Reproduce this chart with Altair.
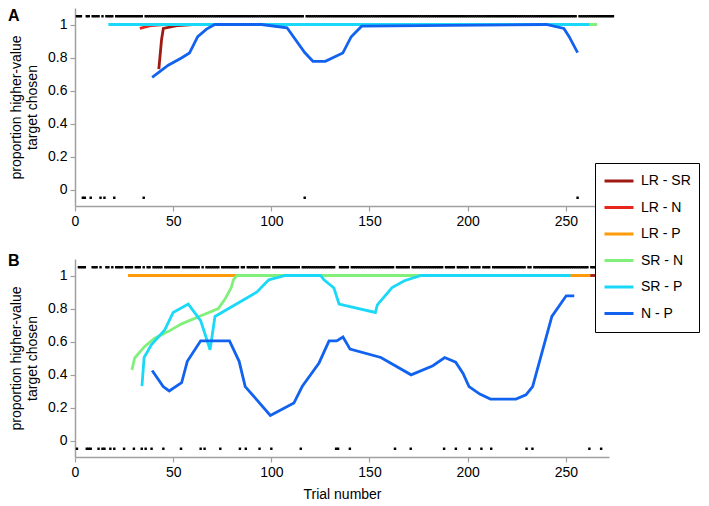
import altair as alt
import pandas as pd

FONT = "Liberation Sans, Arial, sans-serif"

SERIES = ["LR - SR", "LR - N", "LR - P", "SR - N", "SR - P", "N - P"]
COLORS = ["#a01a14", "#e8261e", "#ff9a0a", "#80f07a", "#1ad8f8", "#1262f0"]

# ---------------- Panel A ----------------
A_LRSR_x = [42.7, 44.1, 45.0, 52.6, 60.0]
A_LRSR_y = [0.73, 0.91, 0.976, 0.994, 1.0]
A_LRN_x = [33.0, 39.0, 45.0]
A_LRN_y = [0.977, 0.994, 1.0]
A_LRP_x = []
A_LRP_y = []
A_SRN_x = [60.0, 266.0]
A_SRN_y = [1.0, 1.0]
A_SRP_x = [17.0, 262.0]
A_SRP_y = [1.0, 1.0]
A_NP_x = [39.3, 47.5, 54.2, 58.3, 62.5, 67.0, 71.2, 95.0, 108.0, 117.0, 121.2,
          127.5, 136.4, 140.7, 146.0, 240.0, 249.0, 251.7, 256.0]
A_NP_y = [0.679, 0.753, 0.797, 0.827, 0.926, 0.972, 1.0, 1.0, 0.98, 0.83, 0.777,
          0.777, 0.827, 0.926, 0.99, 1.0, 0.976, 0.926, 0.83]
A_N_TRIALS = 274
A_ERRORS = [4, 5, 8, 13, 15, 20, 35, 117, 256]

# ---------------- Panel B ----------------
B_LRSR_x = [250.0, 265.0]
B_LRSR_y = [1.0, 1.0]
B_LRN_x = []
B_LRN_y = []
B_LRP_x = [27.0, 262.5]
B_LRP_y = [1.0, 1.0]
B_SRN_x = [29.0, 30.4, 35.5, 40.6, 47.4, 54.3, 64.5, 73.0, 76.4, 79.5, 80.7, 82.4, 250.0]
B_SRN_y = [0.428, 0.5, 0.57, 0.62, 0.66, 0.707, 0.758, 0.80, 0.857, 0.924, 0.974, 1.0, 1.0]
B_SRP_x = [34.1, 35.2, 38.9, 45.7, 50.0, 57.7, 64.0, 68.8, 71.3, 92.7, 98.7, 107.2,
           125.1, 126.8, 131.9, 134.5, 153.0, 154.0, 161.5, 167.8, 176.3, 252.4]
B_SRP_y = [0.33, 0.503, 0.58, 0.67, 0.776, 0.827, 0.727, 0.55, 0.752, 0.90, 0.974, 1.0,
           1.0, 0.974, 0.924, 0.827, 0.776, 0.822, 0.927, 0.968, 1.0, 1.0]
B_NP_x = [39.3, 44.9, 48.0, 54.3, 57.2, 64.0, 78.7, 83.6, 86.7, 99.5, 111.5, 115.7,
          124.3, 129.4, 133.3, 136.5, 140.1, 155.8, 171.2, 182.3, 188.3, 193.9, 197.6,
          200.7, 206.2, 211.6, 224.6, 229.7, 233.1, 242.9, 250.2, 254.3]
B_NP_y = [0.424, 0.327, 0.30, 0.35, 0.48, 0.604, 0.604, 0.48, 0.327, 0.152, 0.227, 0.327,
          0.47, 0.604, 0.604, 0.627, 0.554, 0.503, 0.398, 0.453, 0.503, 0.475, 0.408,
          0.327, 0.281, 0.251, 0.251, 0.277, 0.327, 0.752, 0.877, 0.877]
B_N_TRIALS = 270
B_ERRORS = [1, 6, 7, 8, 12, 14, 15, 18, 20, 25, 30, 34, 36, 39, 45, 54, 64, 66, 74, 84,
            87, 94, 100, 115, 133, 134, 140, 163, 171, 188, 194, 201, 207, 212, 230, 233,
            262, 268]

TOP_Y = 1.05
BOTTOM_Y = -0.05
X_TICKS = [0, 50, 100, 150, 200, 250]
Y_TICKS = [0, 0.2, 0.4, 0.6, 0.8, 1]

W = 534
H = 198

xscale = alt.Scale(domain=[0, 272], nice=False, zero=False)
yscale = alt.Scale(domain=[-0.1, 1.1], nice=False, zero=False)
cscale = alt.Scale(domain=SERIES, range=COLORS)

legend = alt.Legend(
    title=None, orient="none", legendX=520, legendY=155,
    symbolType="stroke", symbolSize=841, symbolStrokeWidth=3,
    labelFontSize=14, labelFont=FONT, labelColor="black", labelOffset=6,
    strokeColor="black", fillColor="white", padding=8,
    rowPadding=6.5, clipHeight=20,
)


def make_axes(show_title):
    xa = alt.Axis(values=X_TICKS, labelOverlap=False, labelFlush=False,
                  title="Trial number" if show_title else None)
    ya = alt.Axis(values=Y_TICKS, format="~g", labelOverlap=False, labelFlush=False,
                  title=["proportion higher-value", "target chosen"])
    return xa, ya


def panel(lines, n_trials, errors, label, show_title):
    xa, ya = make_axes(show_title)
    layers = []
    for name, xs, ys in lines:
        if not xs:
            continue
        df = pd.DataFrame({"trial": xs, "p": ys, "series": [name] * len(xs)})
        layers.append(
            alt.Chart(df).mark_line(strokeWidth=2.8, clip=False).encode(
                x=alt.X("trial:Q", scale=xscale, axis=xa),
                y=alt.Y("p:Q", scale=yscale, axis=ya),
                color=alt.Color("series:N", scale=cscale, legend=legend),
                order=alt.Order("trial:Q"),
            )
        )
    err = set(errors)
    top = [t for t in range(1, n_trials + 1) if t not in err]
    dots = pd.DataFrame({
        "trial": top + list(errors),
        "p": [TOP_Y] * len(top) + [BOTTOM_Y] * len(errors),
    })
    layers.append(
        alt.Chart(dots).mark_square(size=6, color="black", opacity=1, clip=False).encode(
            x=alt.X("trial:Q", scale=xscale, axis=xa),
            y=alt.Y("p:Q", scale=yscale, axis=ya),
        )
    )
    lab = pd.DataFrame({"t": [label]})
    layers.append(
        alt.Chart(lab).mark_text(align="left", baseline="top", fontSize=16,
                                 fontWeight="bold", font=FONT, color="black").encode(
            text="t:N", x=alt.value(-67), y=alt.value(-6 if label == "B" else 0)
        )
    )
    return alt.layer(*layers).properties(width=W, height=H)


panel_a = panel(
    [("LR - SR", A_LRSR_x, A_LRSR_y), ("LR - N", A_LRN_x, A_LRN_y),
     ("LR - P", A_LRP_x, A_LRP_y), ("SR - N", A_SRN_x, A_SRN_y),
     ("SR - P", A_SRP_x, A_SRP_y), ("N - P", A_NP_x, A_NP_y)],
    A_N_TRIALS, A_ERRORS, "A", False)
panel_b = panel(
    [("LR - SR", B_LRSR_x, B_LRSR_y), ("LR - N", B_LRN_x, B_LRN_y),
     ("LR - P", B_LRP_x, B_LRP_y), ("SR - N", B_SRN_x, B_SRN_y),
     ("SR - P", B_SRP_x, B_SRP_y), ("N - P", B_NP_x, B_NP_y)],
    B_N_TRIALS, B_ERRORS, "B", True)

chart = alt.vconcat(panel_a, panel_b, spacing=25).properties(
    padding=0
).configure_view(stroke=None).configure_axis(
    grid=False, domainColor="#a0a0a0", tickColor="#a0a0a0", domainWidth=1.5,
    tickWidth=1.2, tickSize=5, labelFont=FONT, labelFontSize=14, labelColor="black",
    titleFont=FONT, titleFontSize=14, titleFontWeight="normal", titleColor="black",
    labelPadding=3,
).configure_axisY(titlePadding=8, titleLineHeight=16).configure_axisX(titlePadding=8)

chart.save("out.html", embed_options={"renderer": "svg", "actions": False})
